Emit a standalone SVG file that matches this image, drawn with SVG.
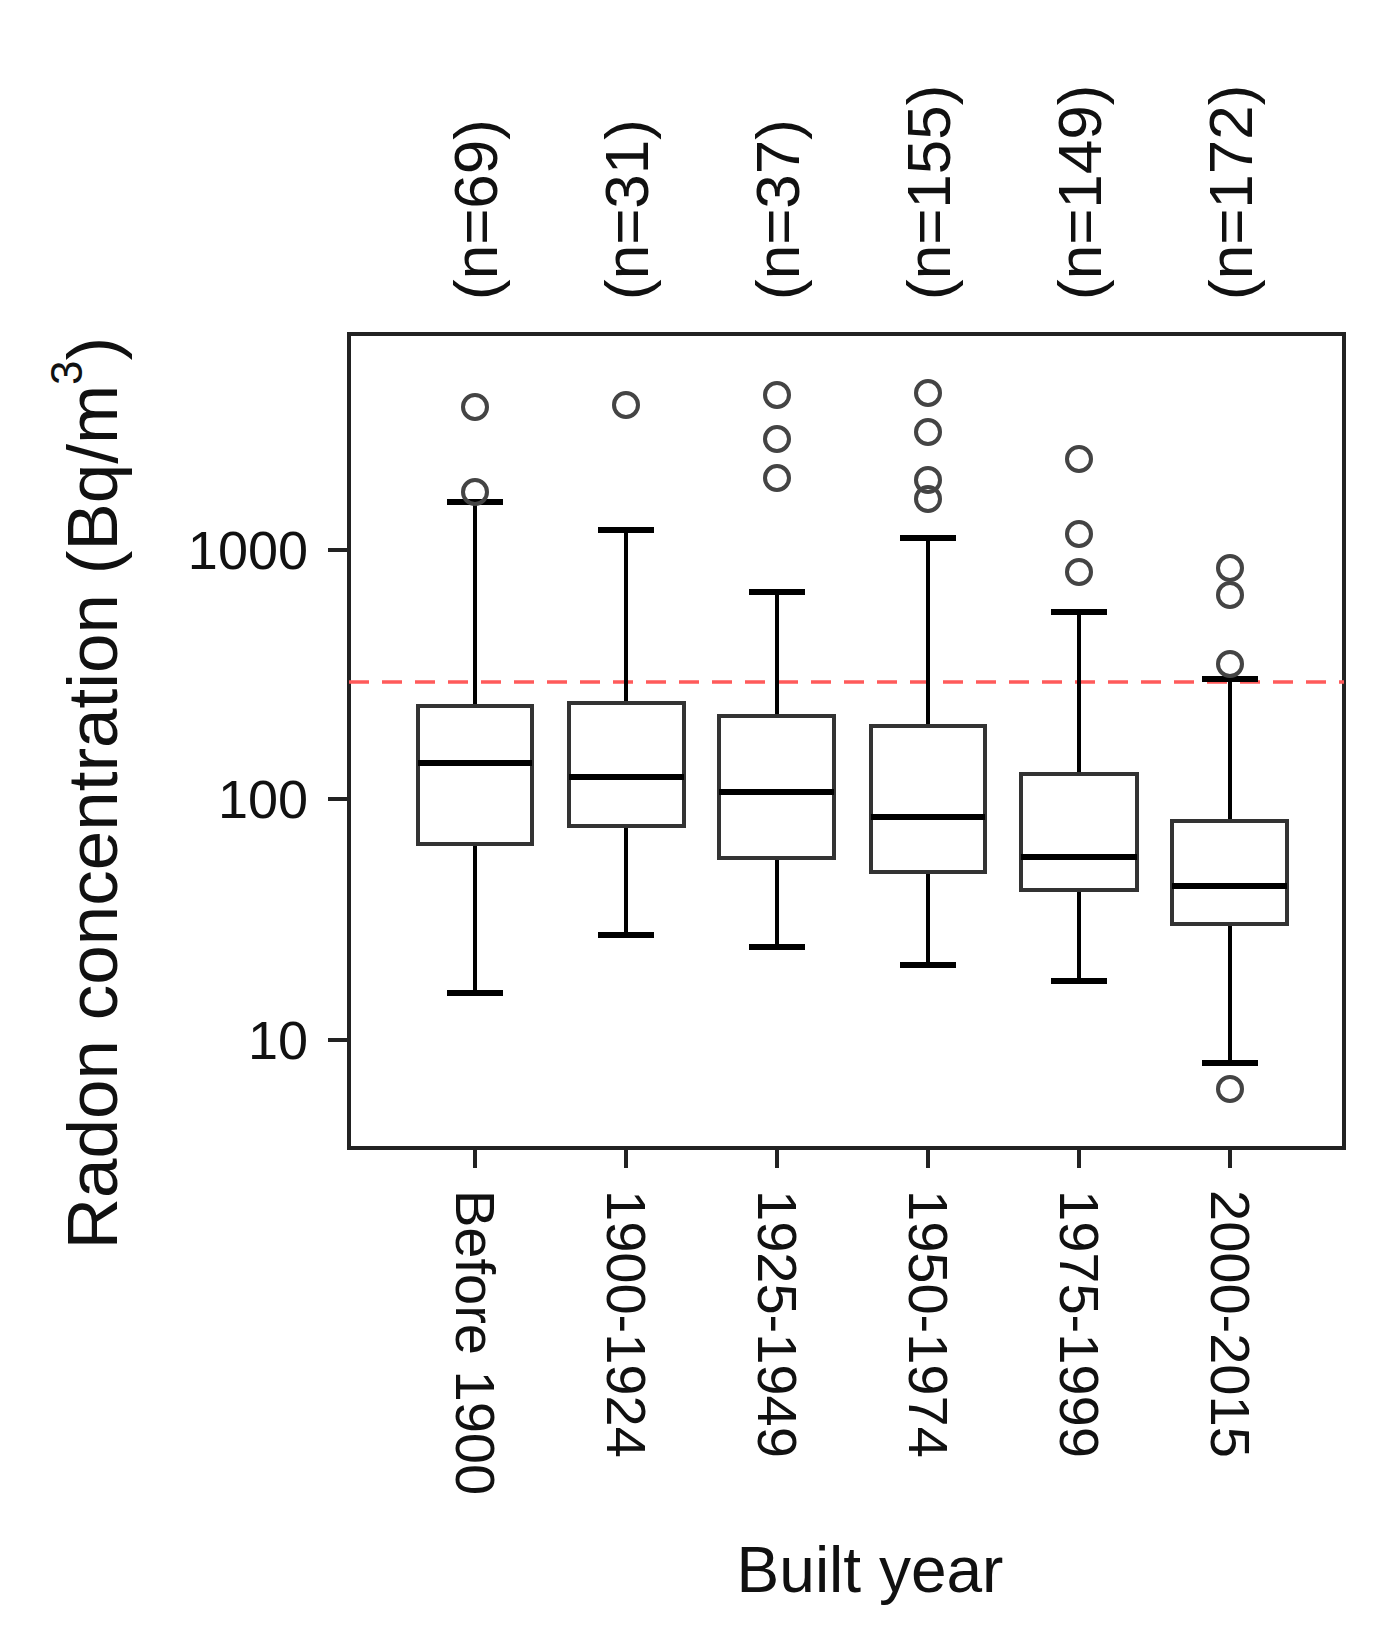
<svg xmlns="http://www.w3.org/2000/svg" width="1397" height="1650" viewBox="0 0 1397 1650">
<style>
text{font-family:"Liberation Sans",Arial,sans-serif;fill:#111}
.box{fill:none;stroke:#333;stroke-width:4}
.med{stroke:#000;stroke-width:6}
.wh{stroke:#000;stroke-width:4}
.cap{stroke:#000;stroke-width:6}
.out{fill:none;stroke:#444;stroke-width:4}
.ax{stroke:#222;stroke-width:4;fill:none}
.lab{font-size:54px}
</style>
<rect width="1397" height="1650" fill="#fff"/>
<g id="axes">
<rect class="ax" x="349" y="334" width="995" height="814"/>
<line class="ax" x1="328" y1="550" x2="349" y2="550"/>
<line class="ax" x1="328" y1="799" x2="349" y2="799"/>
<line class="ax" x1="328" y1="1040" x2="349" y2="1040"/>
<text class="lab" x="308" y="569" text-anchor="end">1000</text>
<text class="lab" x="308" y="818" text-anchor="end">100</text>
<text class="lab" x="308" y="1059" text-anchor="end">10</text>
<g class="ax">
<line x1="475" y1="1148" x2="475" y2="1168"/><line x1="626" y1="1148" x2="626" y2="1168"/><line x1="777" y1="1148" x2="777" y2="1168"/><line x1="928" y1="1148" x2="928" y2="1168"/><line x1="1079" y1="1148" x2="1079" y2="1168"/><line x1="1230" y1="1148" x2="1230" y2="1168"/>
</g>
<text x="92" y="793" font-size="71" text-anchor="middle" transform="rotate(-90 92 793)" dominant-baseline="central">Radon concentration (Bq/m<tspan font-size="44" dy="-26">3</tspan><tspan dy="26">)</tspan></text>
<text x="870" y="1592" font-size="64" text-anchor="middle">Built year</text>
</g>
<line id="threshold" x1="349" y1="682" x2="1344" y2="682" stroke="#ff5a5a" stroke-width="3.5" stroke-dasharray="20 13"/>
<g id="g1">
<line class="wh" x1="475" y1="502" x2="475" y2="706"/><line class="wh" x1="475" y1="844" x2="475" y2="993"/>
<line class="cap" x1="447" y1="502" x2="503" y2="502"/><line class="cap" x1="447" y1="993" x2="503" y2="993"/>
<rect class="box" x="418" y="706" width="114" height="138"/><line class="med" x1="418" y1="763" x2="532" y2="763"/>
<circle class="out" cx="475" cy="407" r="12"/><circle class="out" cx="475" cy="492" r="12"/>
<text x="475" y="300" font-size="62" transform="rotate(-90 475 300)" dominant-baseline="central">(n=69)</text>
<text x="475" y="1190" font-size="56" transform="rotate(90 475 1190)" dominant-baseline="central">Before 1900</text>
</g>
<g id="g2">
<line class="wh" x1="626" y1="530" x2="626" y2="703"/><line class="wh" x1="626" y1="826" x2="626" y2="935"/>
<line class="cap" x1="598" y1="530" x2="654" y2="530"/><line class="cap" x1="598" y1="935" x2="654" y2="935"/>
<rect class="box" x="569" y="703" width="115" height="123"/><line class="med" x1="569" y1="777" x2="684" y2="777"/>
<circle class="out" cx="626" cy="405" r="12"/>
<text x="626" y="300" font-size="62" transform="rotate(-90 626 300)" dominant-baseline="central">(n=31)</text>
<text x="626" y="1190" font-size="56" transform="rotate(90 626 1190)" dominant-baseline="central">1900-1924</text>
</g>
<g id="g3">
<line class="wh" x1="777" y1="592" x2="777" y2="716"/><line class="wh" x1="777" y1="858" x2="777" y2="947"/>
<line class="cap" x1="749" y1="592" x2="805" y2="592"/><line class="cap" x1="749" y1="947" x2="805" y2="947"/>
<rect class="box" x="719" y="716" width="115" height="142"/><line class="med" x1="719" y1="792" x2="834" y2="792"/>
<circle class="out" cx="777" cy="395" r="12"/><circle class="out" cx="777" cy="439" r="12"/><circle class="out" cx="777" cy="478" r="12"/>
<text x="777" y="300" font-size="62" transform="rotate(-90 777 300)" dominant-baseline="central">(n=37)</text>
<text x="777" y="1190" font-size="56" transform="rotate(90 777 1190)" dominant-baseline="central">1925-1949</text>
</g>
<g id="g4">
<line class="wh" x1="928" y1="538" x2="928" y2="726"/><line class="wh" x1="928" y1="872" x2="928" y2="965"/>
<line class="cap" x1="900" y1="538" x2="956" y2="538"/><line class="cap" x1="900" y1="965" x2="956" y2="965"/>
<rect class="box" x="871" y="726" width="114" height="146"/><line class="med" x1="871" y1="817" x2="985" y2="817"/>
<circle class="out" cx="928" cy="393" r="12"/><circle class="out" cx="928" cy="432" r="12"/><circle class="out" cx="928" cy="480" r="12"/><circle class="out" cx="928" cy="499" r="12"/>
<text x="928" y="300" font-size="62" transform="rotate(-90 928 300)" dominant-baseline="central">(n=155)</text>
<text x="928" y="1190" font-size="56" transform="rotate(90 928 1190)" dominant-baseline="central">1950-1974</text>
</g>
<g id="g5">
<line class="wh" x1="1079" y1="612" x2="1079" y2="774"/><line class="wh" x1="1079" y1="890" x2="1079" y2="981"/>
<line class="cap" x1="1051" y1="612" x2="1107" y2="612"/><line class="cap" x1="1051" y1="981" x2="1107" y2="981"/>
<rect class="box" x="1021" y="774" width="116" height="116"/><line class="med" x1="1021" y1="857" x2="1137" y2="857"/>
<circle class="out" cx="1079" cy="459" r="12"/><circle class="out" cx="1079" cy="534" r="12"/><circle class="out" cx="1079" cy="572" r="12"/>
<text x="1079" y="300" font-size="62" transform="rotate(-90 1079 300)" dominant-baseline="central">(n=149)</text>
<text x="1079" y="1190" font-size="56" transform="rotate(90 1079 1190)" dominant-baseline="central">1975-1999</text>
</g>
<g id="g6">
<line class="wh" x1="1230" y1="679" x2="1230" y2="821"/><line class="wh" x1="1230" y1="924" x2="1230" y2="1063"/>
<line class="cap" x1="1202" y1="679" x2="1258" y2="679"/><line class="cap" x1="1202" y1="1063" x2="1258" y2="1063"/>
<rect class="box" x="1172" y="821" width="115" height="103"/><line class="med" x1="1172" y1="886" x2="1287" y2="886"/>
<circle class="out" cx="1230" cy="568" r="12"/><circle class="out" cx="1230" cy="595" r="12"/><circle class="out" cx="1230" cy="664" r="12"/><circle class="out" cx="1230" cy="1089" r="12"/>
<text x="1230" y="300" font-size="62" transform="rotate(-90 1230 300)" dominant-baseline="central">(n=172)</text>
<text x="1230" y="1190" font-size="56" transform="rotate(90 1230 1190)" dominant-baseline="central">2000-2015</text>
</g>
</svg>
